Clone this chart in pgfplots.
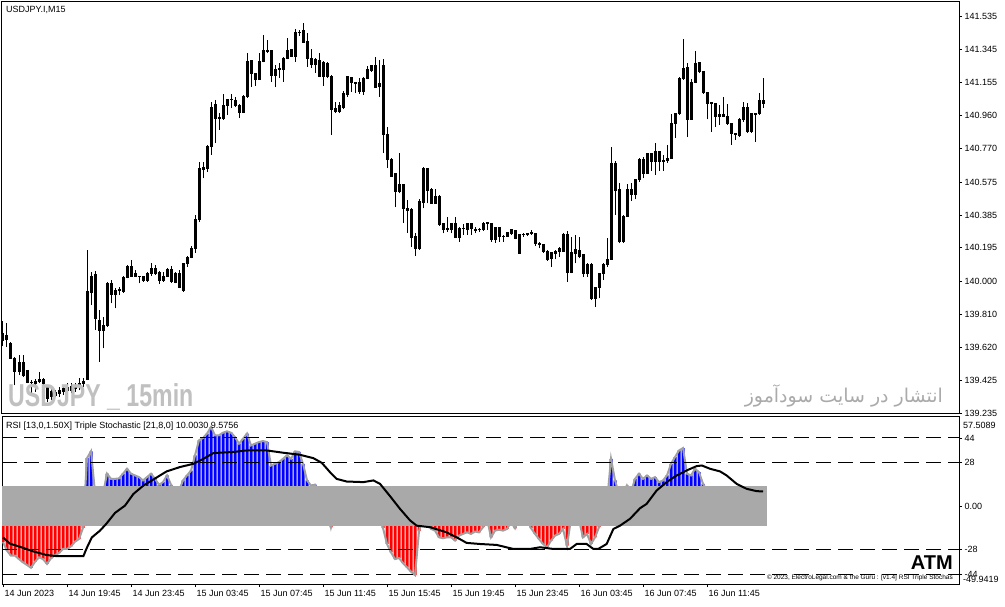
\documentclass[border=0pt]{standalone}
\usepackage{pgfplots}
\pgfplotsset{compat=1.18}
\usepackage{pgfplotstable}
\usepackage{fontspec}
\setmainfont{Liberation Sans}
\newfontfamily\arabicfont[Script=Arabic]{DejaVu Sans}
\TeXXeTstate=1

\definecolor{bandgray}{RGB}{169,169,169}
\definecolor{envgray}{RGB}{160,160,160}
\definecolor{wmgray}{RGB}{192,192,192}
\definecolor{fagray}{RGB}{170,170,170}
\definecolor{mtblue}{RGB}{0,0,255}
\definecolor{mtred}{RGB}{255,0,0}

% USDJPY M15 candles: bar index, open, high, low, close
\pgfplotstableread{
i o h l c
0 139.656 139.772 139.625 139.695
1 139.689 139.757 139.621 139.664
2 139.641 139.650 139.550 139.554
3 139.554 139.563 139.399 139.476
4 139.476 139.573 139.457 139.531
5 139.531 139.573 139.447 139.457
6 139.482 139.486 139.409 139.412
7 139.414 139.428 139.351 139.412
8 139.409 139.432 139.360 139.418
9 139.418 139.476 139.409 139.432
10 139.432 139.438 139.389 139.409
11 139.389 139.399 139.302 139.322
12 139.360 139.380 139.312 139.331
13 139.341 139.370 139.331 139.354
14 139.351 139.389 139.331 139.370
15 139.360 139.399 139.341 139.380
16 139.366 139.409 139.351 139.386
17 139.389 139.410 139.350 139.370
18 139.399 139.409 139.360 139.380
19 139.389 139.438 139.370 139.409
20 139.405 139.441 139.389 139.418
21 139.432 140.182 139.428 139.940
22 139.934 140.056 139.863 140.031
23 140.037 140.062 139.718 139.786
24 139.776 139.834 139.534 139.718
25 139.718 139.795 139.612 139.747
26 139.747 139.998 139.737 139.989
27 139.989 140.008 139.873 139.925
28 139.925 139.960 139.844 139.950
29 139.950 139.966 139.921 139.952
30 139.944 140.031 139.934 140.024
31 140.024 140.095 140.018 140.085
32 140.085 140.124 140.027 140.031
33 140.031 140.066 140.024 140.043
34 140.027 140.031 139.989 140.029
35 140.027 140.031 139.998 140.008
36 140.008 140.056 139.998 140.043
37 140.043 140.108 140.031 140.076
38 140.076 140.095 140.037 140.047
39 140.050 140.062 139.985 140.004
40 140.004 140.056 139.998 140.027
41 140.027 140.076 140.024 140.070
42 140.070 140.089 139.992 139.998
43 140.047 140.056 139.989 139.992
44 140.047 140.066 139.960 139.966
45 139.950 140.108 139.940 140.101
46 140.101 140.147 140.085 140.140
47 140.140 140.205 140.134 140.192
48 140.192 140.385 140.166 140.360
49 140.360 140.694 140.344 140.656
50 140.650 140.694 140.598 140.660
51 140.656 140.791 140.636 140.785
52 140.785 141.042 140.733 141.010
53 141.023 141.052 140.801 140.946
54 140.946 140.975 140.878 140.952
55 140.946 141.087 140.936 141.017
56 141.017 141.058 140.965 141.052
57 141.052 141.087 141.004 141.054
58 141.048 141.071 141.010 141.021
59 141.017 141.029 140.946 140.978
60 140.978 141.081 140.975 141.071
61 141.071 141.323 141.065 141.274
62 141.278 141.284 141.129 141.207
63 141.203 141.207 141.133 141.172
64 141.172 141.323 141.168 141.274
65 141.274 141.429 141.270 141.338
66 141.338 141.400 141.323 141.332
67 141.336 141.342 141.158 141.191
68 141.191 141.255 141.126 141.230
69 141.230 141.265 141.178 141.232
70 141.230 141.303 141.158 141.294
71 141.294 141.413 141.288 141.336
72 141.342 141.346 141.300 141.303
73 141.303 141.462 141.274 141.445
74 141.445 141.458 141.423 141.443
75 141.454 141.497 141.381 141.384
76 141.390 141.442 141.245 141.294
77 141.294 141.346 141.236 141.255
78 141.255 141.294 141.210 141.284
79 141.280 141.323 141.184 141.187
80 141.187 141.278 141.133 141.272
81 141.265 141.274 141.178 141.187
82 141.187 141.197 140.849 140.998
83 141.004 141.040 140.975 140.984
84 140.984 141.042 140.975 141.017
85 141.010 141.106 140.998 141.091
86 141.081 141.191 141.071 141.187
87 141.184 141.187 141.100 141.152
88 141.152 141.158 141.091 141.150
89 141.152 141.178 141.087 141.100
90 141.100 141.184 141.081 141.178
91 141.178 141.249 141.172 141.226
92 141.222 141.255 141.216 141.249
93 141.249 141.303 141.120 141.126
94 141.129 141.284 141.071 141.149
95 141.249 141.288 140.743 140.849
96 140.849 140.897 140.656 140.708
97 140.708 140.714 140.607 140.611
98 140.623 140.627 140.430 140.520
99 140.520 140.743 140.511 140.559
100 140.559 140.565 140.340 140.424
101 140.424 140.472 140.282 140.410
102 140.414 140.424 140.201 140.256
103 140.259 140.279 140.147 140.192
104 140.192 140.476 140.182 140.462
105 140.456 140.662 140.424 140.656
106 140.656 140.660 140.453 140.526
107 140.530 140.540 140.449 140.453
108 140.453 140.534 140.449 140.495
109 140.495 140.501 140.321 140.327
110 140.333 140.337 140.279 140.302
111 140.308 140.375 140.288 140.298
112 140.298 140.340 140.279 140.333
113 140.333 140.375 140.250 140.256
114 140.256 140.317 140.230 140.308
115 140.308 140.333 140.269 140.306
116 140.298 140.340 140.269 140.337
117 140.337 140.340 140.269 140.306
118 140.302 140.314 140.279 140.294
119 140.300 140.308 140.288 140.302
120 140.302 140.346 140.294 140.337
121 140.340 140.346 140.298 140.333
122 140.337 140.340 140.230 140.240
123 140.244 140.317 140.224 140.314
124 140.314 140.317 140.230 140.263
125 140.263 140.269 140.230 140.261
126 140.263 140.288 140.256 140.282
127 140.279 140.302 140.269 140.298
128 140.294 140.298 140.244 140.250
129 140.163 140.275 140.159 140.269
130 140.269 140.282 140.259 140.271
131 140.273 140.279 140.263 140.275
132 140.275 140.298 140.269 140.282
133 140.279 140.282 140.205 140.217
134 140.217 140.230 140.192 140.215
135 140.211 140.217 140.166 140.172
136 140.176 140.182 140.120 140.128
137 140.134 140.172 140.085 140.166
138 140.163 140.182 140.128 140.176
139 140.176 140.201 140.140 140.192
140 140.176 140.279 140.172 140.269
141 140.269 140.294 139.998 140.050
142 140.050 140.259 140.047 140.166
143 140.163 140.269 140.105 140.182
144 140.178 140.256 140.134 140.147
145 140.153 140.159 140.024 140.047
146 140.047 140.105 140.027 140.095
147 140.095 140.105 139.892 139.902
148 139.902 139.969 139.853 139.966
149 139.966 140.050 139.902 140.043
150 140.043 140.105 140.008 140.095
151 140.095 140.250 140.082 140.128
152 140.128 140.781 140.124 140.681
153 140.681 140.700 140.385 140.526
154 140.530 140.569 140.221 140.230
155 140.230 140.385 140.224 140.379
156 140.379 140.565 140.375 140.530
157 140.530 140.569 140.468 140.501
158 140.501 140.592 140.476 140.588
159 140.588 140.714 140.578 140.708
160 140.708 140.723 140.598 140.627
161 140.627 140.746 140.623 140.739
162 140.739 140.743 140.642 140.694
163 140.694 140.804 140.617 140.752
164 140.752 140.758 140.642 140.694
165 140.694 140.733 140.642 140.700
166 140.700 140.791 140.688 140.714
167 140.714 140.971 140.712 140.917
168 140.917 140.978 140.830 140.971
169 140.971 141.187 140.965 141.178
170 141.178 141.404 141.168 141.236
171 141.242 141.268 140.836 140.940
172 140.940 141.172 140.936 141.152
173 141.152 141.338 141.149 141.265
174 141.271 141.274 141.207 141.216
175 141.216 141.222 141.087 141.094
176 141.094 141.100 140.940 141.033
177 141.033 141.042 140.868 141.036
178 141.033 141.036 140.897 140.955
179 140.955 141.023 140.907 140.965
180 140.965 141.071 140.952 140.955
181 140.955 141.029 140.907 140.913
182 140.913 140.917 140.791 140.855
183 140.855 140.859 140.820 140.849
184 140.843 140.946 140.839 140.936
185 140.936 141.042 140.926 141.010
186 141.010 141.036 140.859 140.868
187 140.868 140.975 140.862 140.971
188 140.971 140.975 140.810 140.969
189 140.971 141.094 140.965 141.048
190 141.048 141.178 141.004 141.033
}\candles

% RSI triple stochastic histogram
\pgfplotstableread{
i v
0 -23
1 -28.5
2 -31.7
3 -31.7
4 -33.9
5 -36
6 -37.7
7 -39.5
8 -35.6
9 -32.8
10 -33.9
11 -37
12 -33.4
13 -31.3
14 -30
15 -27.4
16 -27.4
17 -25.7
18 -22.7
19 -21
20 -13.8
21 31
22 35.4
23 9
24 5
25 8
26 21
27 17.7
28 17.7
29 18
30 21
31 24.2
32 21
33 19.9
34 18.8
35 16.7
36 18.8
37 21
38 17.7
39 13.9
40 15.6
41 19.9
42 13.9
43 10
44 10
45 16.7
46 19.9
47 23
48 32.8
49 42.5
50 44
51 46.8
52 51
53 45.7
54 45.7
55 47.4
56 48.3
57 47.4
58 44.6
59 40.3
60 43.5
61 46.8
62 39.2
63 40.3
64 41.4
65 42
66 41.4
67 26.3
68 27.4
69 28.5
70 30.6
71 32.8
72 30.6
73 35.4
74 35
75 27.4
76 16.7
77 13.4
78 14
79 8
80 4
81 0
82 -13.5
83 -5
84 -3
85 2
86 4
87 3
88 1
89 2
90 3
91 5
92 6
93 4
94 0
95 -14
96 -24.2
97 -29.6
98 -33.9
99 -33.2
100 -36.5
101 -39.2
102 -42
103 -44.2
104 -16
105 -5
106 -8
107 -14.5
108 -15.6
109 -19.9
110 -20.5
111 -19.9
112 -19.9
113 -22
114 -18.8
115 -17.7
116 -16.7
117 -17.7
118 -16.2
119 -16.7
120 -13.4
121 -8
122 -19.9
123 -15.6
124 -15
125 -15.6
126 -14.5
127 -10
128 -14.1
129 -8
130 -6
131 -9
132 -14
133 -17.7
134 -21
135 -24.2
136 -26.3
137 -22
138 -18.8
139 -17.7
140 -14.5
141 -25.3
142 -8
143 -6
144 -9
145 -19.9
146 -17.7
147 -24.2
148 -19.9
149 -13.4
150 -5
151 3
152 30.6
153 16.7
154 8
155 6
156 13.4
157 9
158 17.7
159 21
160 17.7
161 19.9
162 17.7
163 18.8
164 15.6
165 16.7
166 19.9
167 27.4
168 31.7
169 36
170 37.5
171 21
172 19.9
173 24.2
174 22
175 14.5
176 10
177 8
178 6
179 5
180 4
181 3
182 2
183 1
184 2
185 3
186 4
187 3
188 2
189 3
190 4
}\hist

\begin{document}
\begin{tikzpicture}
\useasboundingbox (0pt,0pt) rectangle (1005pt,606pt);

% price panel, y in (price - 139)
\begin{axis}[
  at={(2pt,192pt)}, anchor=south west,
  scale only axis, width=957pt, height=412pt,
  xmin=-0.25, xmax=239, ymin=0.231, ymax=2.620,
  enlargelimits=false,
  ybar stacked, bar width=2pt,
  axis line style={black, line width=1pt},
  xtick=\empty,
  ytick pos=right, yticklabel pos=right,
  tick align=outside, major tick length=3pt,
  tick style={black, line width=0.8pt},
  ytick={0.235,0.425,0.620,0.810,1.000,1.195,1.385,1.575,1.770,1.960,2.155,2.345,2.535},
  yticklabels={139.235,139.425,139.620,139.810,140.000,140.195,140.385,140.575,140.770,140.960,141.155,141.345,141.535},
  yticklabel style={font=\fontsize{9}{10}\selectfont, anchor=west, xshift=-1pt},
]
% wicks (error bars on an invisible base up to the low)
\addplot[fill=none, draw=none,
  error bars/.cd, y dir=plus, y explicit, error mark=none,
  error bar style={draw=black, line width=1pt}]
  table[x=i, y expr=\thisrow{l}-139, y error plus expr=\thisrow{h}-\thisrow{l}] {\candles};
\addplot[fill=none, draw=none]
  table[x=i, y expr={min(\thisrow{o},\thisrow{c})-\thisrow{l}}] {\candles};
% bull bodies
\addplot[fill=white, draw=black, line width=1pt]
  table[x=i, y expr={max(\thisrow{c}-\thisrow{o},0)}] {\candles};
% bear bodies
\addplot[fill=black, draw=black, line width=1pt]
  table[x=i, y expr={max(\thisrow{o}-\thisrow{c},0)}] {\candles};
\end{axis}

% indicator panel
\begin{axis}[
  at={(2pt,22pt)}, anchor=south west,
  scale only axis, width=957pt, height=167pt,
  xmin=-0.25, xmax=239, ymin=-49.9419, ymax=57.5089,
  enlargelimits=false,
  axis line style={black, line width=1pt},
  xtick pos=bottom, ytick pos=right, yticklabel pos=right,
  tick align=outside, major tick length=3pt,
  tick style={black, line width=0.8pt},
  xtick={0,16,32,48,64,80,96,112,128,144,160,176},
  xticklabels={14 Jun 2023,14 Jun 19:45,14 Jun 23:45,15 Jun 03:45,15 Jun 07:45,15 Jun 11:45,15 Jun 15:45,15 Jun 19:45,15 Jun 23:45,16 Jun 03:45,16 Jun 07:45,16 Jun 11:45},
  xticklabel style={font=\fontsize{9}{10}\selectfont, anchor=north west, xshift=-2pt},
  ytick={-44,-28,0,28,44},
  yticklabels={-44,-28,0.00,28,44},
  yticklabel style={font=\fontsize{9}{10}\selectfont, anchor=west, xshift=-1pt},
]
\addplot[ybar, bar width=3pt, fill=mtblue, draw=none]
  table[x=i, y expr={max(\thisrow{v},0)}] {\hist};
\addplot[ybar, bar width=3pt, fill=mtred, draw=none]
  table[x=i, y expr={min(\thisrow{v},0)}] {\hist};
\addplot[envgray, line width=2pt, mark=none] table[x=i, y=v] {\hist};
% neutral band
\addplot[fill=bandgray, draw=none] coordinates {(-0.25,13.4) (191,13.4) (191,-12.4) (-0.25,-12.4)} -- cycle;
% levels
\addplot[black, line width=1pt, dash pattern=on 15pt off 7pt] coordinates {(-0.25,44) (239,44)};
\addplot[black, line width=1pt, dash pattern=on 15pt off 7pt] coordinates {(-0.25,28) (239,28)};
\addplot[black, line width=1pt, dash pattern=on 15pt off 7pt] coordinates {(-0.25,-28) (239,-28)};
\addplot[black, line width=1pt, dash pattern=on 15pt off 7pt] coordinates {(-0.25,-44) (239,-44)};
% signal line
\addplot[black, line width=2pt] coordinates {
(0,-20) (1.75,-24) (4.25,-26) (7.6,-29) (10.9,-31.3) (13.4,-32) (20.1,-32) (20.9,-27)
(22.2,-20) (24.25,-15.6) (25.9,-11) (28,-4.2) (30.5,0.5) (32.6,8) (35.1,13.4) (37.6,17.3)
(40.9,22.5) (44.25,25.3) (47.6,27.4) (50.1,30.6) (52.6,34.3) (57.6,35) (60.9,36) (65.9,36)
(70.1,34.5) (74.25,33.2) (77.6,31) (79.7,28) (81.75,22) (83.4,17.7) (85.9,16) (90.1,15.6)
(92.6,16.7) (94.25,14.5) (96.75,6.6) (99.25,-1.6) (101.75,-9) (103.4,-12.4) (106.75,-13.4)
(110.9,-16.7) (113.4,-19.9) (115.9,-23.5) (119.25,-24.2) (123.4,-24.8) (127.6,-27.4)
(131.75,-27.4) (134.25,-26.3) (137.6,-27.4) (141.75,-27.4) (143.4,-24.2) (145.9,-24.2)
(147.6,-27.4) (148.8,-27.4) (150.9,-24.2) (152.6,-14.5) (154.25,-12.4) (156.75,-8)
(159.25,-1.2) (160.9,1.6) (163.4,10.2) (165.9,15.6) (168.4,19.9) (170.9,23.1) (173.4,25.9)
(174.7,26.3) (176.75,24.2) (179.25,22.5) (180.9,19.9) (183.4,14.5) (185.9,11.3) (188.4,9.8)
(190,9.6)};
\end{axis}

% texts
\node[anchor=west, inner sep=0pt, font=\fontsize{9}{10}\selectfont] at (6pt,596pt) {USDJPY.I,M15};
\node[anchor=base west, inner sep=0pt, text=wmgray] at (8pt,199.3pt)
  {\scalebox{0.73}[1]{\fontsize{31.7}{32}\selectfont\bfseries USDJPY \_ 15min}};
\node[anchor=east, inner sep=0pt, text=fagray] at (943pt,210pt)
  {\resizebox{198pt}{!}{\arabicfont\beginR انتشار در سایت سودآموز\endR}};
\node[anchor=west, inner sep=0pt, font=\fontsize{9}{10}\selectfont] at (6pt,180pt)
  {RSI [13,0,1.50X] Triple Stochastic [21,8,0] 10.0030 9.5756};
\node[anchor=base east, inner sep=0pt, font=\fontsize{20}{20}\selectfont\bfseries] at (953pt,37pt) {ATM};
\node[anchor=east, inner sep=0pt, font=\fontsize{6.5}{7}\selectfont] at (953pt,28.3pt)
  {© 2023, ElectroLegal.com \& the Guru : [v1.4] RSI Triple Stochas};
\node[anchor=west, inner sep=0pt, font=\fontsize{9}{10}\selectfont] at (963pt,181pt) {57.5089};
\node[anchor=west, inner sep=0pt, font=\fontsize{9}{10}\selectfont] at (963pt,27pt) {-49.9419};
\end{tikzpicture}
\end{document}
